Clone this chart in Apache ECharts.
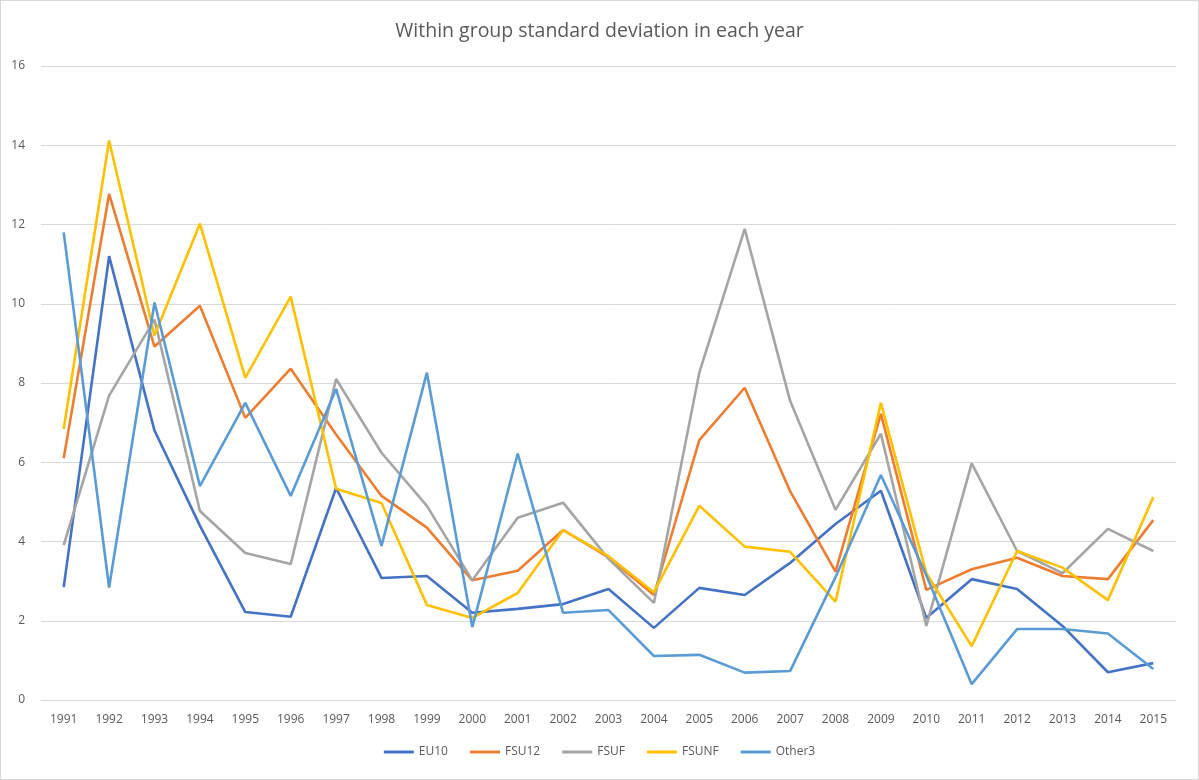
<!DOCTYPE html>
<html>
<head>
<meta charset="utf-8">
<script src="https://cdn.jsdelivr.net/npm/echarts@6/dist/echarts.min.js"></script>
<style>
  html, body { margin: 0; padding: 0; background: #fff; }
  #chart { width: 1197px; height: 778px; border: 1px solid #d9d9d9; }
</style>
</head>
<body>
<div id="chart"></div>
<script>
// years on the x axis
const years = ['1991','1992','1993','1994','1995','1996','1997','1998','1999','2000',
  '2001','2002','2003','2004','2005','2006','2007','2008','2009','2010',
  '2011','2012','2013','2014','2015'];

// within group standard deviation per group
const eu10 = [2.85, 11.2, 6.8, 4.4, 2.22, 2.1, 5.35, 3.08, 3.13, 2.2,
  2.3, 2.42, 2.8, 1.82, 2.83, 2.65, 3.46, 4.44, 5.28, 2.07,
  3.05, 2.8, 1.87, 0.7, 0.93];
const fsu12 = [6.1, 12.77, 8.92, 9.95, 7.12, 8.36, 6.7, 5.15, 4.35, 3.02,
  3.26, 4.29, 3.6, 2.65, 6.56, 7.88, 5.27, 3.24, 7.22, 2.78,
  3.3, 3.59, 3.13, 3.05, 4.54];
const fsuf = [3.91, 7.68, 9.6, 4.77, 3.71, 3.43, 8.1, 6.24, 4.9, 3.02,
  4.6, 4.98, 3.56, 2.45, 8.26, 11.89, 7.55, 4.8, 6.72, 1.87,
  5.97, 3.76, 3.2, 4.32, 3.76];
const fsunf = [6.84, 14.12, 9.2, 12.02, 8.13, 10.18, 5.33, 4.97, 2.4, 2.07,
  2.7, 4.29, 3.63, 2.72, 4.9, 3.87, 3.74, 2.48, 7.5, 3.2,
  1.36, 3.76, 3.34, 2.52, 5.12];
const other3 = [11.8, 2.84, 10.03, 5.4, 7.5, 5.15, 7.85, 3.89, 8.26, 1.84,
  6.22, 2.2, 2.27, 1.11, 1.14, 0.69, 0.73, 3.1, 5.68, 3.15,
  0.4, 1.79, 1.79, 1.68, 0.78];

const yTicks = [0, 16, 2]; // min, max, interval

const chart = echarts.init(document.getElementById('chart'));
const font = '"Open Sans", "Noto Sans", sans-serif';

function line(name, data, color) {
  return {
    name: name,
    type: 'line',
    data: data,
    symbol: 'none',
    lineStyle: { width: 2.6, color: color },
    itemStyle: { color: color }
  };
}

const option = {
  animation: false,
  textStyle: { fontFamily: font },
  title: {
    text: 'Within group standard deviation in each year',
    left: 'center',
    top: 15,
    textStyle: { fontFamily: font, fontSize: 19.5, fontWeight: 'normal', color: '#595959' }
  },
  legend: {
    bottom: 16,
    left: 'center',
    itemWidth: 30,
    itemHeight: 3,
    itemGap: 22,
    icon: 'rect',
    textStyle: { fontFamily: font, fontSize: 12, color: '#595959' },
    data: ['EU10', 'FSU12', 'FSUF', 'FSUNF', 'Other3']
  },
  grid: { left: 40, right: 22, top: 65, bottom: 79 },
  xAxis: {
    type: 'category',
    data: years,
    boundaryGap: true,
    axisLine: { lineStyle: { color: '#d9d9d9', width: 1 } },
    axisTick: { show: false },
    axisLabel: { color: '#595959', fontSize: 12, margin: 14, interval: 0 }
  },
  yAxis: {
    type: 'value',
    min: yTicks[0],
    max: yTicks[1],
    interval: yTicks[2],
    axisLine: { show: false },
    axisTick: { show: false },
    axisLabel: { color: '#595959', fontSize: 12, margin: 16 },
    splitLine: { lineStyle: { color: '#d9d9d9', width: 1 } }
  },
  series: [
    line('EU10', eu10, '#4472C4'),
    line('FSU12', fsu12, '#ED7D31'),
    line('FSUF', fsuf, '#A5A5A5'),
    line('FSUNF', fsunf, '#FFC000'),
    line('Other3', other3, '#5B9BD5')
  ]
};

chart.setOption(option);
window.addEventListener('resize', function () {
  chart.resize();
});
</script>
</body>
</html>
